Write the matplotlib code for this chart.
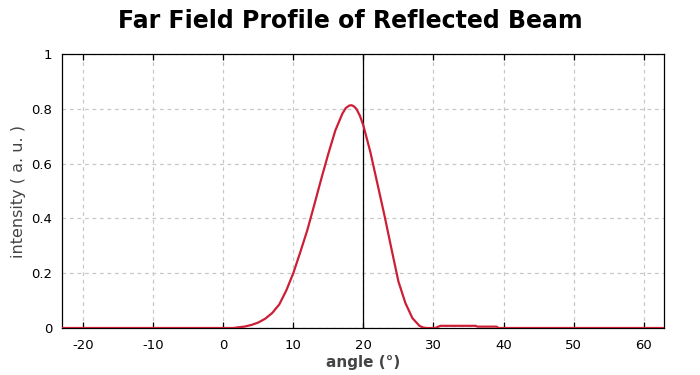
import matplotlib
matplotlib.use('Agg')
import matplotlib.pyplot as plt

plt.rcParams['font.family'] = 'DejaVu Sans'
plt.rcParams['axes.unicode_minus'] = False

# values
angle = [-23, 1.5, 2, 3, 4, 5, 6, 7, 8, 9, 10, 11, 12, 13, 14, 15, 16, 17, 17.5,
         18, 18.3, 18.6, 19, 19.5, 20, 21, 22, 23, 24, 25, 26, 27, 28, 28.5, 29,
         30.3, 30.6, 31, 36, 36.3, 39, 39.3, 63]
intensity = [0, 0, 0.002, 0.005, 0.011, 0.02, 0.034, 0.055, 0.086, 0.137, 0.2, 0.277,
             0.357, 0.45, 0.545, 0.636, 0.721, 0.782, 0.803,
             0.812, 0.813, 0.81, 0.8, 0.775, 0.739, 0.642, 0.527, 0.412, 0.29, 0.17, 0.091,
             0.036, 0.008, 0.002, 0,
             0, 0.004, 0.008, 0.008, 0.005, 0.005, 0, 0]
marker_angle = 20
xticks = [-20, -10, 0, 10, 20, 30, 40, 50, 60]
yticks = [0, 0.2, 0.4, 0.6, 0.8, 1]
ytick_labels = ['0', '0.2', '0.4', '0.6', '0.8', '1']

fig = plt.figure(figsize=(7, 3.75), dpi=100)
ax = fig.add_axes([0.0886, 0.1253, 0.86, 0.7307])

ax.grid(True, color='#c8c8c8', linestyle=(0, (3, 3)), linewidth=0.9)
ax.set_axisbelow(True)
ax.axvline(marker_angle, color='black', linewidth=0.9, zorder=2)
ax.plot(angle, intensity, color='#cc1f36', linewidth=1.6, zorder=3)

ax.set_xlim(-23, 62.9)
ax.set_ylim(0, 1)
ax.set_xticks(xticks)
ax.set_yticks(yticks)
ax.set_yticklabels(ytick_labels)
ax.tick_params(axis='x', direction='in', top=True, length=4, width=0.9,
               labelsize=9.5, pad=8)
ax.tick_params(axis='y', length=0, labelsize=9.5, pad=7)
for s in ax.spines.values():
    s.set_linewidth(0.9)

ax.set_xlabel('angle (°)', fontsize=11, fontweight='bold', color='#444444', labelpad=2)
ax.set_ylabel('intensity ( a. u. )', fontsize=11.5, color='#444444', labelpad=4)
fig.suptitle('Far Field Profile of Reflected Beam', fontsize=17, fontweight='bold',
             x=0.5, y=0.975)

fig.savefig('out.png', dpi=100)
